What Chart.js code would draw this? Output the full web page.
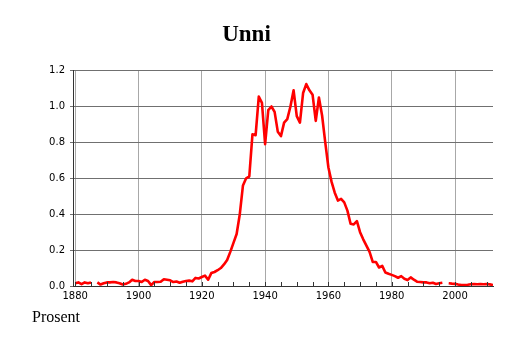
<!DOCTYPE html>
<html>
<head>
<meta charset="utf-8">
<script src="https://cdn.jsdelivr.net/npm/chart.js@4"></script>
<style>
  body { margin: 0; background: #fff; }
  #wrap { position: relative; width: 514px; height: 343px; }
  #unit { position: absolute; left: 32px; top: 309px; font: 16px/16px "Liberation Serif", serif; color: #000; }
</style>
</head>
<body>
<div id="wrap">
  <canvas id="chart" width="514" height="343"></canvas>
  <div id="unit">Prosent</div>
</div>
<script>
const firstYear = 1880;
// percent per year, 1880..2012 (null = no data)
const values = [
  0.015, 0.02, 0.01, 0.02, 0.015, 0.02, null, 0.02, 0.008, 0.015,
  0.02, 0.02, 0.022, 0.02, 0.015, 0.008, 0.012, 0.02, 0.035, 0.028,
  0.028, 0.022, 0.035, 0.028, 0.005, 0.022, 0.022, 0.024, 0.038, 0.035,
  0.032, 0.022, 0.025, 0.018, 0.024, 0.028, 0.03, 0.026, 0.045, 0.042,
  0.05, 0.058, 0.035, 0.072, 0.078, 0.088, 0.1, 0.12, 0.145, 0.19,
  0.24, 0.29, 0.4, 0.56, 0.6, 0.61, 0.845, 0.84, 1.055, 1.02,
  0.79, 0.98, 1.0, 0.97, 0.86, 0.835, 0.91, 0.93, 1.0, 1.09,
  0.946, 0.91, 1.075, 1.125, 1.09, 1.065, 0.92, 1.05, 0.95, 0.8,
  0.66, 0.58, 0.52, 0.476, 0.485, 0.466, 0.42, 0.347, 0.343, 0.361,
  0.3, 0.26, 0.225, 0.19, 0.134, 0.134, 0.103, 0.112, 0.075, 0.068,
  0.062, 0.055, 0.046, 0.055, 0.04, 0.033, 0.048, 0.035, 0.024, 0.022,
  0.02, 0.02, 0.015, 0.018, 0.011, 0.015, 0.018, null, 0.015, 0.013,
  0.012, 0.008, 0.005, 0.005, 0.007, 0.01, 0.011, 0.01, 0.011, 0.01,
  0.011, 0.009, 0.005
];
const years = values.map((v, i) => firstYear + i);
const yTicks = [0, 0.2, 0.4, 0.6, 0.8, 1.0, 1.2];

// small inward ticks every 5 years on the bottom axis
const minorTicks = {
  id: "minorTicks",
  afterDraw(chart) {
    const x = chart.scales.x, ctx = chart.ctx;
    const bottom = chart.chartArea.bottom;
    ctx.save();
    ctx.strokeStyle = "#333";
    ctx.lineWidth = 1;
    x.ticks.forEach(t => {
      const px = Math.round(x.getPixelForValue(t.value)) + 0.5;
      ctx.beginPath();
      ctx.moveTo(px, bottom);
      ctx.lineTo(px, bottom - 4);
      ctx.stroke();
    });
    ctx.restore();
  }
};

new Chart(document.getElementById("chart"), {
  type: "line",
  data: {
    datasets: [{
      data: years.map((y, i) => ({ x: y, y: values[i] })),
      borderColor: "#ff0000",
      borderWidth: 2.6,
      pointRadius: 0,
      tension: 0,
      spanGaps: false,
      borderJoinStyle: "round"
    }]
  },
  options: {
    responsive: false,
    animation: false,
    layout: { padding: { left: 0, right: 21, top: 0, bottom: 0 } },
    plugins: {
      legend: { display: false },
      tooltip: { enabled: false },
      title: {
        display: true,
        text: "Unni",
        color: "#000",
        font: { family: "Liberation Serif", size: 23, weight: "bold" },
        padding: { top: 21, bottom: 22 }
      }
    },
    scales: {
      x: {
        type: "linear",
        min: 1879.3,
        max: 2012,
        afterFit: s => { s.height = 57; },
        ticks: {
          stepSize: 5,
          includeBounds: false,
          autoSkip: false,
          maxRotation: 0,
          padding: 4,
          color: "#000",
          font: { family: "DejaVu Sans", size: 10 },
          callback: v => (v % 20 === 0 ? String(v) : "")
        },
        grid: {
          drawTicks: false,
          color: c => (c.tick && c.tick.value % 20 === 0 ? "#a8a8a8" : "rgba(0,0,0,0)")
        },
        border: { color: "#333" }
      },
      y: {
        min: 0,
        max: 1.2,
        afterFit: s => { s.width = 73; },
        afterBuildTicks: s => { s.ticks = yTicks.map(v => ({ value: v })); },
        ticks: {
          padding: 5,
          color: "#000",
          font: { family: "DejaVu Sans", size: 10 },
          callback: v => v.toFixed(1)
        },
        grid: { color: "#707070", tickLength: 3, tickColor: "#707070" },
        border: { color: "#333" }
      }
    }
  },
  plugins: [minorTicks]
});
</script>
</body>
</html>
